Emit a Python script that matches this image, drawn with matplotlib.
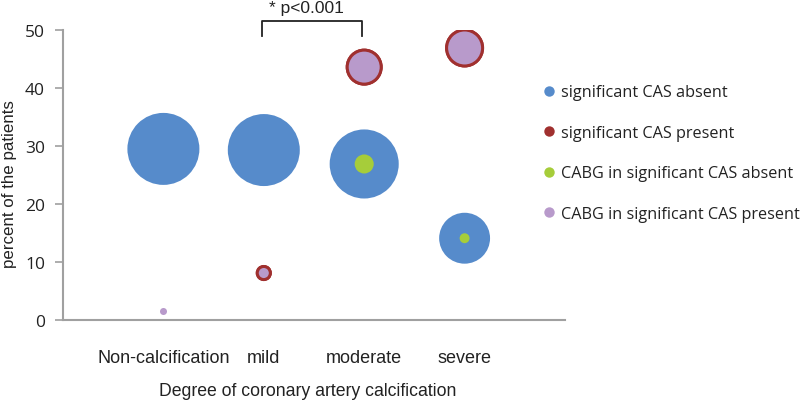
import numpy as np
import matplotlib
matplotlib.use("Agg")
import matplotlib.pyplot as plt
from matplotlib.lines import Line2D

categories = ['Non-calcification', 'mild', 'moderate', 'severe']
nan = np.nan
# percent of patients (y) and relative bubble size (area, 100 = largest)
absent_pct = [29.5, 29.3, 26.9, 14.1]
absent_size = [100, 100, 92, 50]
present_pct = [nan, 8.1, 43.6, 46.9]
present_size = [nan, 5, 26.4, 29.3]
cabg_absent_pct = [nan, nan, 26.9, 14.1]
cabg_absent_size = [nan, nan, 7.0, 1.9]
cabg_present_pct = [1.6, 8.1, 43.6, 46.9]
cabg_present_size = [0.95, 5, 26.4, 29.3]
series_labels = ['significant CAS absent', 'significant CAS present',
                 'CABG in significant CAS absent', 'CABG in significant CAS present']
y_ticks = [0, 10, 20, 30, 40, 50]

C_BLUE = '#568bcb'
C_RED = '#a0302f'
C_GREEN = '#a6cd3a'
C_PURPLE = '#b89acb'
AX_GRAY = '#a0a0a0'
TXT = '#222222'

FONT_A = ['Liberation Sans', 'DejaVu Sans']
FONT_B = ['Open Sans', 'DejaVu Sans']

fig = plt.figure(figsize=(8.0, 4.02), dpi=100)
ax = fig.add_axes([63 / 800, 81 / 402, 502 / 800, 290 / 402])

x = np.arange(1, len(categories) + 1)
MAX_D_PX = 72.0  # diameter in px of a size-100 bubble
EDGE_PX = 3.0


def area_pts(size, shrink_px=0.0):
    size = np.asarray(size, dtype=float)
    d_px = MAX_D_PX * np.sqrt(size / 100.0) - shrink_px
    return (d_px * 0.72) ** 2


ax.scatter(x, absent_pct, s=area_pts(absent_size), color=C_BLUE, linewidths=0, zorder=2)
ax.scatter(x, present_pct, s=area_pts(present_size), color=C_RED, linewidths=0, zorder=3)
ax.scatter(x, cabg_absent_pct, s=area_pts(cabg_absent_size), color=C_GREEN, linewidths=0, zorder=4)
# CABG present: red-bordered bubbles where CAS present exists
has_red = ~np.isnan(np.asarray(present_pct, dtype=float))
cp = np.asarray(cabg_present_pct, dtype=float)
cs = np.asarray(cabg_present_size, dtype=float)
ax.scatter(x[has_red], cp[has_red], s=area_pts(cs[has_red], EDGE_PX),
           facecolor=C_PURPLE, edgecolor=C_RED, linewidths=EDGE_PX * 0.72, zorder=5)
ax.scatter(x[~has_red], cp[~has_red], s=area_pts(cs[~has_red]),
           color=C_PURPLE, linewidths=0, zorder=5)

ax.set_xlim(0, 5)
ax.set_ylim(0, 50)
ax.set_xticks(x)
ax.set_xticklabels(categories, family=FONT_A, fontsize=13, color=TXT)
ax.tick_params(axis='x', length=0, pad=21)
ax.set_yticks(y_ticks)
ax.set_yticklabels([str(v) for v in y_ticks], family=FONT_B, fontsize=12.5, color=TXT)
ax.tick_params(axis='y', length=6, width=1.2, color=AX_GRAY, pad=7)
for side in ['top', 'right']:
    ax.spines[side].set_visible(False)
for side in ['left', 'bottom']:
    ax.spines[side].set_color(AX_GRAY)
    ax.spines[side].set_linewidth(1.5)

ax.set_xlabel('Degree of coronary artery calcification', family=FONT_A,
              fontsize=12.7, color=TXT, va='center')
ax.xaxis.set_label_coords((308 - 63) / 502, -(392 - 321) / 290)
ax.set_ylabel('percent of the patients', family=FONT_A, fontsize=12.2,
              color=TXT, va='center')
ax.yaxis.set_label_coords((9.5 - 63) / 502, (402 - 184 - 81) / 290)

# significance bracket between mild and moderate
ax.plot([1.98, 1.98, 2.98, 2.98], [48.9, 51.5, 51.5, 48.9], color=TXT,
        lw=1.3, clip_on=False, zorder=6)
ax.text(2.42, 52.5, '* p<0.001', ha='center', va='bottom', family=FONT_A,
        fontsize=12.5, color=TXT)

handles = [Line2D([], [], marker='o', linestyle='none', markersize=7.5,
                  markerfacecolor=c, markeredgewidth=0)
           for c in [C_BLUE, C_RED, C_GREEN, C_PURPLE]]
leg = fig.legend(handles, series_labels, loc='upper left',
                 bbox_to_anchor=(538 / 800, 1 - 79 / 402), frameon=False,
                 prop={'family': FONT_B, 'size': 11.7}, handlelength=0.6,
                 handletextpad=0.4, labelspacing=1.5, borderaxespad=0)
for t in leg.get_texts():
    t.set_color(TXT)

fig.savefig('out.png', dpi=100)
